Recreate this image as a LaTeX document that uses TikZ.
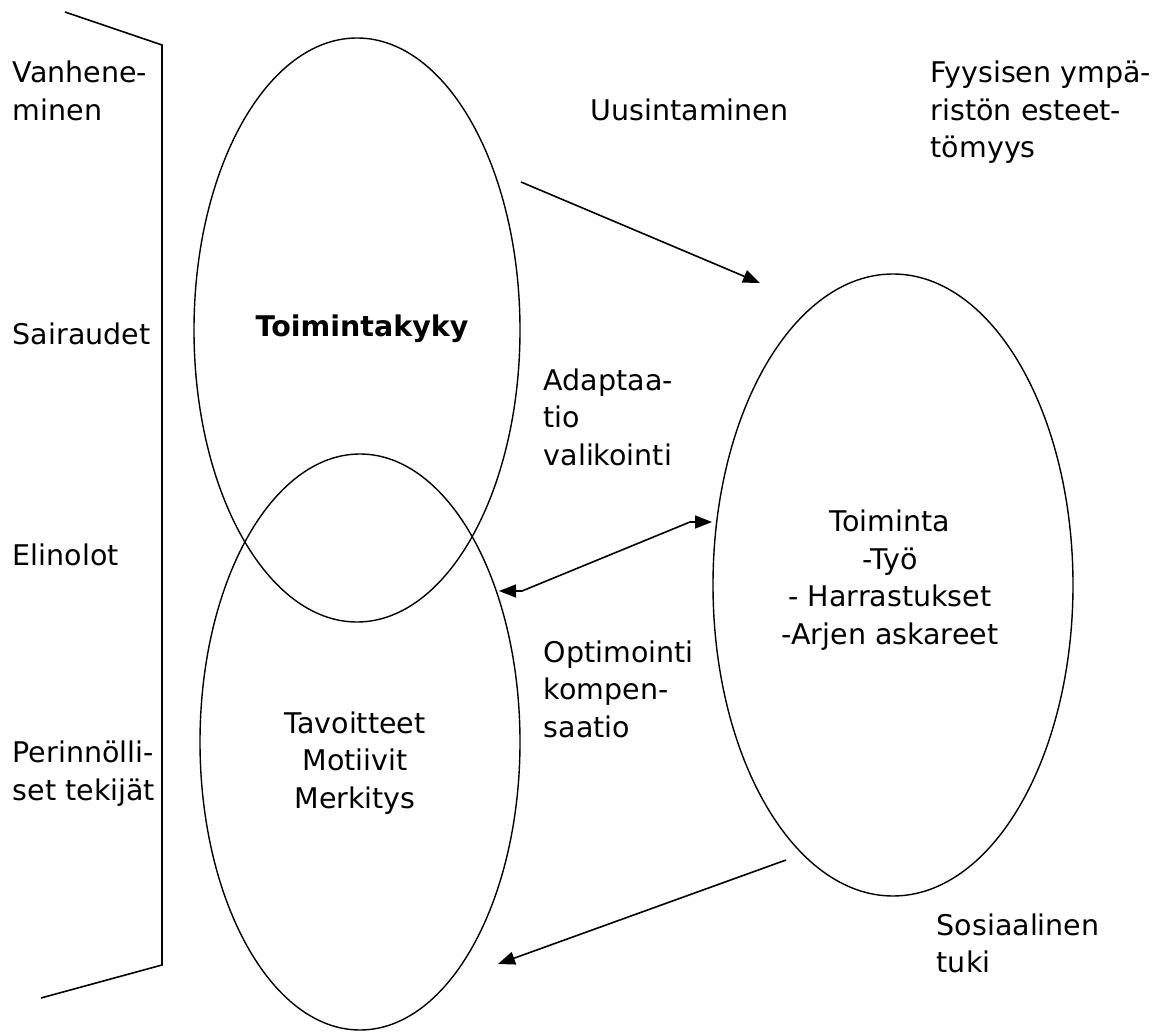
\documentclass[tikz,border=0pt]{standalone}
\usepackage{fontspec}
\setmainfont{DejaVu Sans}
\usetikzlibrary{shapes.geometric,arrows.meta}
\begin{document}
\begin{tikzpicture}[x=1pt,y=-1pt,
  line width=1.6pt,
  >={Triangle[length=17pt,width=13pt]},
  txt/.style={inner sep=0pt,font=\fontsize{28.5}{37.5}\selectfont},
  lbl/.style={txt,align=left},
  ctr/.style={txt,align=center},
  oval/.style={draw,ellipse,inner sep=0pt,line width=1.4pt},
  arr/.style={->}
]
\useasboundingbox (0,0) rectangle (1160,1032);
% bracket
\coordinate (b1) at (65,12);
\coordinate (b2) at (162,45);
\coordinate (b3) at (162,965);
\coordinate (b4) at (41,998);
\draw (b1) -- (b2) -- (b3) -- (b4);
% ellipses
\node[oval,minimum width=326pt,minimum height=584pt] (kyky) at (357,330) {};
\node[oval,minimum width=320pt,minimum height=576pt] (tav) at (360,742) {};
\node[oval,minimum width=360pt,minimum height=622pt] (toim) at (893,585) {};
% texts
\node[lbl,anchor=west] (t1) at (12,90.7) {Vanhene-\\minen};
\node[txt,anchor=base west] (t2) at (12,345) {Sairaudet};
\node[txt,anchor=base west] (t3) at (12,565) {Elinolot};
\node[lbl,anchor=west] (t4) at (12,773.5) {Perinnölli-\\set tekijät};
\node[txt,anchor=base,font=\fontsize{28.5}{37.5}\selectfont\bfseries] (t5) at (362,337) {Toimintakyky};
\node[txt,anchor=base west] (t6) at (590,121) {Uusintaminen};
\node[lbl,anchor=west] (t7) at (930,112.5) {Fyysisen ympä-\\ristön esteet-\\tömyys};
\node[lbl,anchor=west] (t8) at (543,417.2) {Adaptaa-\\tio\\valikointi};
\node[ctr] (t9) at (890,580) {Toiminta\\-Työ\\- Harrastukset\\-Arjen askareet};
\node[lbl,anchor=west] (t10) at (543,689.2) {Optimointi\\kompen-\\saatio};
\node[ctr] (t11) at (355,763) {Tavoitteet\\Motiivit\\Merkitys};
\node[lbl,anchor=west] (t12) at (936,943.2) {Sosiaalinen\\tuki};
% connectors
\coordinate (a1s) at (521,182);
\coordinate (a1e) at (760,283);
\draw[arr] (a1s) -- (a1e);
\coordinate (d1) at (499,591);
\coordinate (d2) at (522,591);
\coordinate (d3) at (690,522);
\coordinate (d4) at (712,522);
\draw[<->] (d1) -- (d2) -- (d3) -- (d4);
\coordinate (a3s) at (786,860);
\coordinate (a3e) at (498,964);
\draw[arr] (a3s) -- (a3e);
\end{tikzpicture}
\end{document}
